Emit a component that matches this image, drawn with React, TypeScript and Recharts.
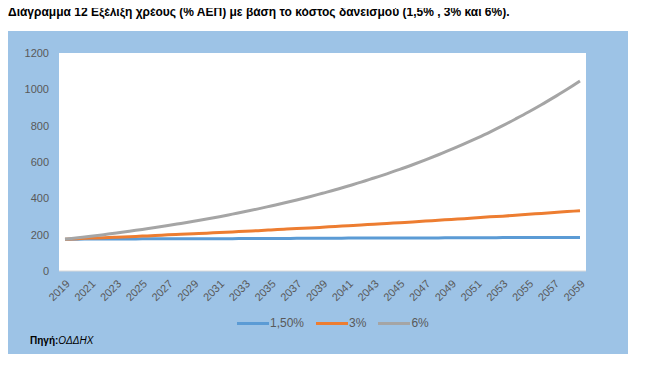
import { LineChart, Line, XAxis, YAxis, CartesianGrid, Legend } from 'recharts';

const years = [
  '2019', '2020', '2021', '2022', '2023', '2024', '2025', '2026', '2027', '2028',
  '2029', '2030', '2031', '2032', '2033', '2034', '2035', '2036', '2037', '2038',
  '2039', '2040', '2041', '2042', '2043', '2044', '2045', '2046', '2047', '2048',
  '2049', '2050', '2051', '2052', '2053', '2054', '2055', '2056', '2057', '2058', '2059',
];

const rate15 = [
  175, 175, 176, 176, 176, 176, 177, 177, 177, 177,
  178, 178, 178, 178, 179, 179, 179, 179, 180, 180,
  180, 180, 181, 181, 181, 181, 182, 182, 182, 182,
  183, 183, 183, 183, 184, 184, 184, 184, 185, 185, 185,
];

const rate3 = [
  175, 178, 181, 183, 186, 189, 192, 195, 199, 202,
  205, 208, 212, 215, 219, 222, 226, 230, 234, 237,
  241, 245, 249, 253, 258, 262, 266, 270, 275, 279,
  284, 288, 293, 298, 302, 307, 312, 317, 322, 327, 332,
];

const rate6 = [
  175, 183, 191, 200, 209, 219, 229, 239, 250, 262,
  274, 286, 299, 313, 327, 342, 358, 374, 391, 409,
  428, 447, 468, 489, 512, 535, 559, 585, 612, 640,
  669, 700, 732, 765, 800, 837, 875, 915, 957, 1000, 1046,
];

const yTicks = [0, 200, 400, 600, 800, 1000, 1200];

const data = years.map((year, i) => ({
  year,
  r15: rate15[i],
  r3: rate3[i],
  r6: rate6[i],
}));

const FONT = "'Liberation Sans', Arial, sans-serif";

// excel style legend: line swatch, text right after it
const renderLegend = (props: any) => (
  <div style={{ display: 'flex', alignItems: 'center', fontSize: 12, fontFamily: FONT, color: '#595959' }}>
    {props.payload.map((entry: any) => (
      <div key={entry.value} style={{ display: 'flex', alignItems: 'center', marginRight: 12 }}>
        <div style={{ width: 32, height: 3, background: entry.color, marginRight: 1 }} />
        <span>{entry.value}</span>
      </div>
    ))}
  </div>
);

export default function App() {
  return (
    <div style={{ position: 'relative', width: 646, height: 368, margin: -8, background: '#fff', fontFamily: FONT }}>
      <div style={{ position: 'absolute', left: 8, top: 5, fontSize: 12, fontWeight: 'bold', color: '#000', whiteSpace: 'nowrap' }}>
        Διάγραμμα 12 Εξέλιξη χρέους (% ΑΕΠ) με βάση το κόστος δανεισμού (1,5% , 3% και 6%).
      </div>
      <div style={{ position: 'absolute', left: 8, top: 31, width: 620, height: 323, background: '#9dc3e6' }}>
        <LineChart width={620} height={323} data={data} margin={{ top: 22, right: 42, left: 0, bottom: 16 }}>
          <CartesianGrid fill="#ffffff" horizontal={false} vertical={false} />
          <XAxis
            dataKey="year"
            interval={1}
            padding={{ left: 6, right: 6 }}
            angle={-45}
            textAnchor="end"
            height={37}
            tickLine={false}
            axisLine={{ stroke: '#d9d9d9' }}
            tick={{ fill: '#595959', fontSize: 11, fontFamily: FONT }}
          />
          <YAxis
            domain={[0, 1200]}
            ticks={yTicks}
            width={51}
            tickLine={false}
            axisLine={false}
            tickSize={0}
            tickMargin={10}
            tick={{ fill: '#595959', fontSize: 11, fontFamily: FONT }}
          />
          <Legend
            verticalAlign="bottom"
            content={renderLegend}
            wrapperStyle={{ left: 229, width: 'auto', height: 30, display: 'flex', alignItems: 'center' }}
          />
          <Line type="monotone" dataKey="r15" name="1,50%" stroke="#5b9bd5" strokeWidth={3} dot={false} isAnimationActive={false} />
          <Line type="monotone" dataKey="r3" name="3%" stroke="#ed7d31" strokeWidth={3} dot={false} isAnimationActive={false} />
          <Line type="monotone" dataKey="r6" name="6%" stroke="#a5a5a5" strokeWidth={3} dot={false} isAnimationActive={false} />
        </LineChart>
        <div style={{ position: 'absolute', left: 22, top: 304, fontSize: 10, color: '#000', whiteSpace: 'nowrap' }}>
          <b>Πηγή:</b><i>ΟΔΔΗΧ</i>
        </div>
      </div>
    </div>
  );
}
